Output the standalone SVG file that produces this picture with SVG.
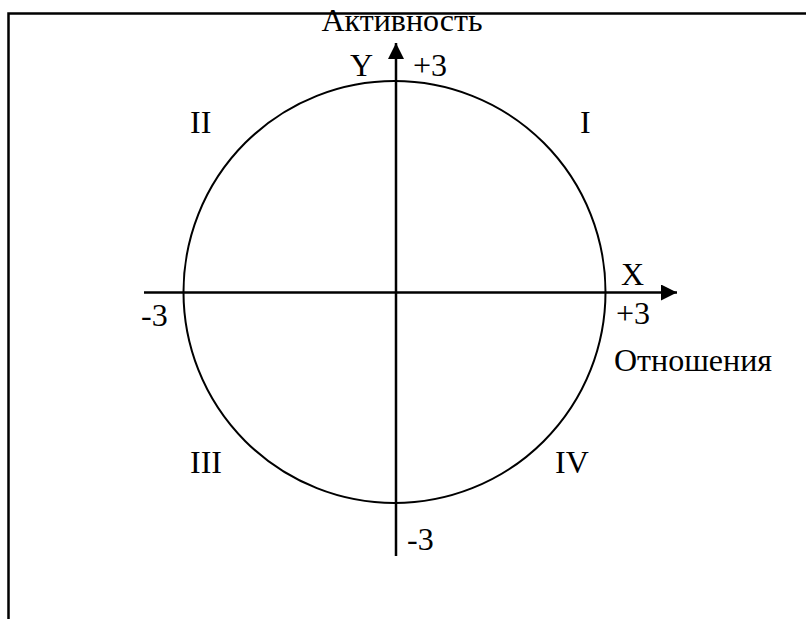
<svg xmlns="http://www.w3.org/2000/svg" width="806" height="619" viewBox="0 0 806 619">
<style>
text{font-family:"Liberation Serif","Times New Roman",serif;font-size:32px;fill:#000}
.ax{stroke:#000;stroke-width:2.5;fill:none}
</style>
<defs>
<marker id="ah" viewBox="0 0 16 16" refX="16" refY="8" markerWidth="16" markerHeight="16" markerUnits="userSpaceOnUse" orient="auto">
<path d="M0,0 L16,8 L0,16 Z" fill="#000"/>
</marker>
</defs>
<rect width="806" height="619" fill="#fff"/>
<g id="frame">
<path d="M8.5,619 V13.5 H806" stroke="#000" stroke-width="2.5" fill="none"/>
</g>
<g id="circle">
<circle cx="394.5" cy="292" r="211" stroke="#000" stroke-width="2" fill="none"/>
</g>
<g id="connectors">
<line class="ax" x1="144" y1="292.5" x2="677" y2="292.5" marker-end="url(#ah)"/>
<line class="ax" x1="396" y1="556" x2="396" y2="43" marker-end="url(#ah)"/>
</g>
<g id="labels">
<text x="402" y="31" text-anchor="middle">Активность</text>
<text x="350" y="76">Y</text>
<text x="413" y="76">+3</text>
<text x="621" y="285">X</text>
<text x="616" y="324">+3</text>
<text x="614" y="371">Отношения</text>
<text x="141" y="326">-3</text>
<text x="407" y="550">-3</text>
<text x="190" y="133">II</text>
<text x="580" y="133">I</text>
<text x="190" y="473">III</text>
<text x="555" y="473">IV</text>
</g>
</svg>
